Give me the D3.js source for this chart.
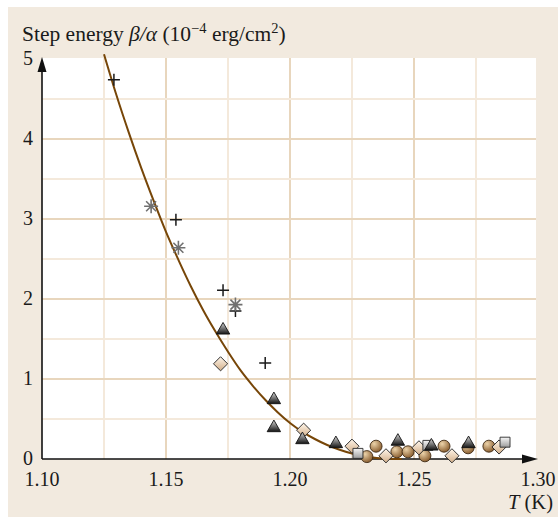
<!DOCTYPE html>
<html>
<head>
<meta charset="utf-8">
<script src="https://cdn.jsdelivr.net/npm/d3@7/dist/d3.min.js"></script>
<style>
  html, body { margin: 0; padding: 0; background: #fff; }
  svg { display: block; }
  text { font-family: "Liberation Serif", "Times New Roman", serif; fill: #1a1a1a; }
</style>
</head>
<body>
<svg id="chart" width="558" height="519"></svg>
<script>
// Step energy beta/alpha versus temperature T (K)
const xTicks = [1.10, 1.15, 1.20, 1.25, 1.30];
const yTicks = [0, 1, 2, 3, 4, 5];

// fitted curve, read along its length
const curveT = [1.125, 1.130, 1.135, 1.140, 1.145, 1.150, 1.155, 1.160, 1.165, 1.170, 1.175, 1.180,
                1.185, 1.190, 1.195, 1.200, 1.205, 1.210, 1.215, 1.220, 1.225, 1.230, 1.235, 1.240, 1.245];
const curveV = [5.06, 4.55, 4.08, 3.64, 3.23, 2.84, 2.49, 2.16, 1.86, 1.59, 1.34, 1.11,
                0.915, 0.74, 0.585, 0.45, 0.34, 0.25, 0.175, 0.115, 0.068, 0.034, 0.012, 0.002, 0];

// measured series, one array pair per symbol
const plusT = [1.129, 1.154, 1.173, 1.178, 1.190];
const plusV = [4.74, 2.99, 2.11, 1.85, 1.20];

const starT = [1.144, 1.155, 1.178];
const starV = [3.16, 2.64, 1.93];

const triT = [1.173, 1.1935, 1.1935, 1.205, 1.2185, 1.2435, 1.257, 1.272];
const triV = [1.61, 0.74, 0.39, 0.24, 0.19, 0.22, 0.16, 0.19];

const diaT = [1.172, 1.2055, 1.225, 1.2387, 1.252, 1.2653, 1.2843];
const diaV = [1.19, 0.36, 0.16, 0.04, 0.14, 0.04, 0.15];

const sqT = [1.2274, 1.2556, 1.2867];
const sqV = [0.07, 0.17, 0.21];

const circT = [1.2310, 1.2347, 1.2431, 1.2476, 1.2544, 1.2621, 1.2718, 1.2802];
const circV = [0.03, 0.16, 0.09, 0.09, 0.04, 0.16, 0.14, 0.16];

const svg = d3.select("#chart");
const plot = { left: 42, right: 536, top: 58, bottom: 459 };

const x = d3.scaleLinear().domain([1.10, 1.30]).range([plot.left, plot.right + 2]);
const y = d3.scaleLinear().domain([0, 5]).range([plot.bottom, plot.top + 1]);

// panel and plotting area
svg.append("rect").attr("x", 8).attr("y", 7).attr("width", 550).attr("height", 510).attr("fill", "#f2eadf");
svg.append("rect").attr("x", plot.left).attr("y", plot.top)
  .attr("width", plot.right - plot.left).attr("height", plot.bottom - plot.top).attr("fill", "#fff");

// gradients for the filled symbols
const defs = svg.append("defs");
function linGrad(id, c0, c1) {
  const g = defs.append("linearGradient").attr("id", id).attr("x1", 0).attr("y1", 0).attr("x2", 0).attr("y2", 1);
  g.append("stop").attr("offset", "0%").attr("stop-color", c0);
  g.append("stop").attr("offset", "100%").attr("stop-color", c1);
}
linGrad("gTri", "#d8d8d8", "#141414");
linGrad("gSq", "#f6f6f6", "#9c9c9c");
const gd = defs.append("linearGradient").attr("id", "gDia").attr("x1", 0).attr("y1", 0).attr("x2", 1).attr("y2", 1);
gd.append("stop").attr("offset", "0%").attr("stop-color", "#fff6ea");
gd.append("stop").attr("offset", "100%").attr("stop-color", "#d2ae88");
const gc = defs.append("radialGradient").attr("id", "gCirc").attr("cx", "35%").attr("cy", "30%").attr("r", "75%");
gc.append("stop").attr("offset", "0%").attr("stop-color", "#ecd3aa");
gc.append("stop").attr("offset", "100%").attr("stop-color", "#86592a");

// grid: every 0.025 K and every 0.5 units, whole values darker
const gridX = d3.range(1, 8).map(i => 1.10 + i * 0.025);
const gridY = d3.range(1, 10).map(i => i * 0.5);
const grid = svg.append("g");
grid.selectAll("line.gx").data(gridX).join("line")
  .attr("x1", d => x(d)).attr("x2", d => x(d)).attr("y1", plot.top).attr("y2", plot.bottom)
  .attr("stroke", (d, i) => i % 2 === 1 ? "#e8d6bd" : "#f4e9db").attr("stroke-width", 2);
grid.selectAll("line.gy").data(gridY).join("line")
  .attr("y1", d => y(d)).attr("y2", d => y(d)).attr("x1", plot.left).attr("x2", plot.right)
  .attr("stroke", (d, i) => i % 2 === 1 ? "#e8d6bd" : "#f4e9db").attr("stroke-width", 2);

// axes with arrow heads
const axes = svg.append("g");
axes.append("line").attr("x1", plot.left).attr("x2", 526).attr("y1", plot.bottom).attr("y2", plot.bottom)
  .attr("stroke", "#111").attr("stroke-width", 1.6);
axes.append("line").attr("x1", plot.left).attr("x2", plot.left).attr("y1", plot.bottom).attr("y2", 68)
  .attr("stroke", "#111").attr("stroke-width", 1.6);
axes.append("path").attr("d", `M${plot.left},57 L${plot.left - 4.5},72 L${plot.left + 4.5},72 Z`).attr("fill", "#111");
axes.append("path").attr("d", `M538,${plot.bottom} L522,${plot.bottom - 4.5} L522,${plot.bottom + 4.5} Z`).attr("fill", "#111");

// tick labels
svg.append("g").selectAll("text").data(xTicks).join("text")
  .attr("x", d => x(d)).attr("y", 486).attr("text-anchor", "middle").attr("font-size", 20)
  .text(d => d3.format(".2f")(d));
svg.append("g").selectAll("text").data(yTicks).join("text")
  .attr("x", 33).attr("y", d => y(d) + 6).attr("text-anchor", "end").attr("font-size", 20)
  .text(d => d);

// axis titles
const yt = svg.append("text").attr("x", 22).attr("y", 41).attr("font-size", 21.5);
yt.append("tspan").text("Step energy ");
yt.append("tspan").attr("font-style", "italic").text("β/α");
yt.append("tspan").text(" (10");
yt.append("tspan").attr("font-size", 14.5).attr("dy", -8).text("−4");
yt.append("tspan").attr("dy", 8).text(" erg/cm");
yt.append("tspan").attr("font-size", 14.5).attr("dy", -8).text("2");
yt.append("tspan").attr("dy", 8).text(")");

const xt = svg.append("text").attr("x", 553).attr("y", 509).attr("text-anchor", "end").attr("font-size", 20.5);
xt.append("tspan").attr("font-style", "italic").text("T");
xt.append("tspan").text(" (K)");

// fitted curve
const line = d3.line().x(d => x(d[0])).y(d => y(d[1])).curve(d3.curveMonotoneX);
svg.append("path").datum(curveT.map((t, i) => [t, curveV[i]]))
  .attr("d", line).attr("fill", "none").attr("stroke", "#774608").attr("stroke-width", 2);

// symbols
const pts = (T, V) => T.map((t, i) => [t, V[i]]);
const marks = svg.append("g");

marks.selectAll("circle.c").data(pts(circT, circV)).join("circle")
  .attr("cx", d => x(d[0])).attr("cy", d => y(d[1])).attr("r", 6)
  .attr("fill", "url(#gCirc)").attr("stroke", "#3f2a14").attr("stroke-width", 0.9);

marks.selectAll("path.d").data(pts(diaT, diaV)).join("path")
  .attr("d", d3.symbol(d3.symbolSquare, 100)())
  .attr("transform", d => `translate(${x(d[0])},${y(d[1])}) rotate(45)`)
  .attr("fill", "url(#gDia)").attr("stroke", "#2a2a2a").attr("stroke-width", 0.9);

marks.selectAll("path.s").data(pts(sqT, sqV)).join("path")
  .attr("d", d3.symbol(d3.symbolSquare, 100)())
  .attr("transform", d => `translate(${x(d[0])},${y(d[1])})`)
  .attr("fill", "url(#gSq)").attr("stroke", "#2a2a2a").attr("stroke-width", 0.9);

marks.selectAll("path.t").data(pts(triT, triV)).join("path")
  .attr("d", d3.symbol(d3.symbolTriangle, 78)())
  .attr("transform", d => `translate(${x(d[0])},${y(d[1])})`)
  .attr("fill", "url(#gTri)").attr("stroke", "#111").attr("stroke-width", 0.9);

const plusPath = "M-6,0H6M0,-6V6";
marks.selectAll("path.p").data(pts(plusT, plusV)).join("path")
  .attr("d", plusPath)
  .attr("transform", d => `translate(${x(d[0])},${y(d[1])})`)
  .attr("stroke", "#1a1a1a").attr("stroke-width", 1.5).attr("fill", "none");

const starPath = "M-7,0H7M0,-7V7M-5,-5L5,5M-5,5L5,-5";
marks.selectAll("path.a").data(pts(starT, starV)).join("path")
  .attr("d", starPath)
  .attr("transform", d => `translate(${x(d[0])},${y(d[1])})`)
  .attr("stroke", "#707070").attr("stroke-width", 1.6).attr("fill", "none");
</script>
</body>
</html>
